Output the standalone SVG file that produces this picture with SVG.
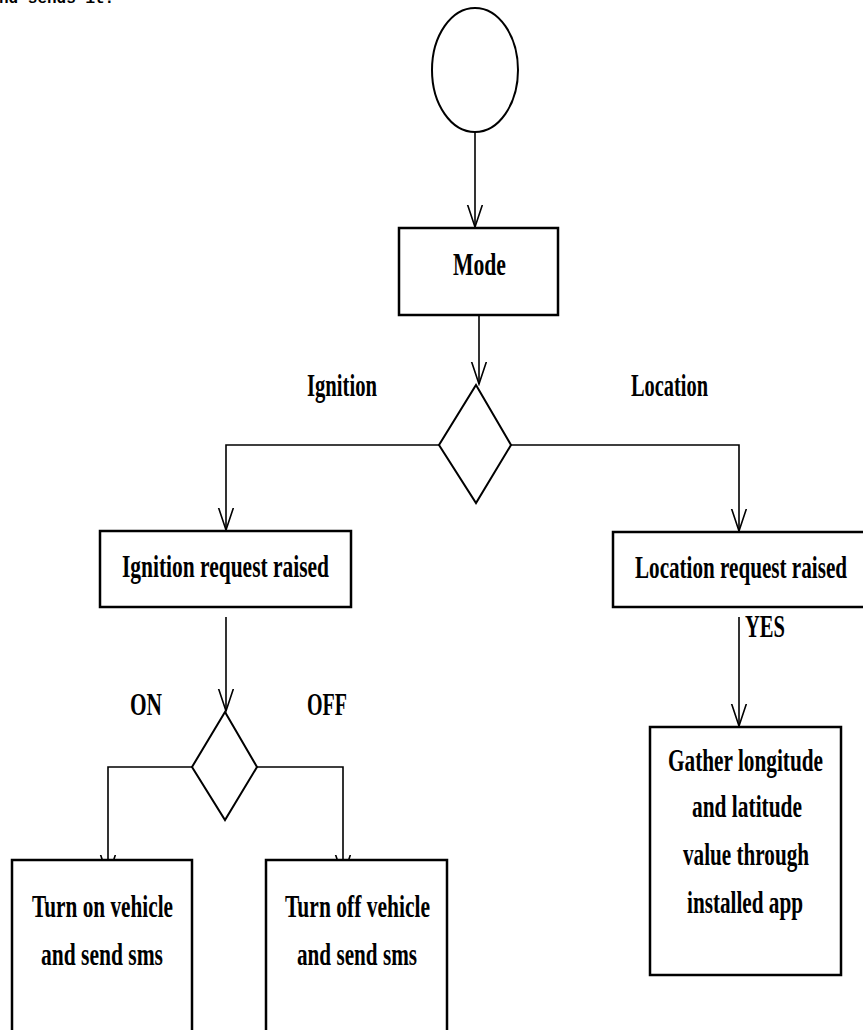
<svg xmlns="http://www.w3.org/2000/svg" width="863" height="1030" viewBox="0 0 863 1030">
<defs>
<style>
.box{fill:#fff;stroke:#000;stroke-width:2.5}
.shape{fill:#fff;stroke:#000;stroke-width:2}
.ln{fill:none;stroke:#000;stroke-width:1.6}
.t{font-family:"Liberation Serif","Times New Roman",serif;font-weight:bold;font-size:32px;fill:#000}
.m{text-anchor:middle}
.cap{font-family:"Liberation Mono","Courier New",monospace;font-weight:bold;font-size:16px;fill:#000}
</style>
<marker id="arr" viewBox="0 0 24 18" markerWidth="24" markerHeight="18" refX="22.5" refY="8" orient="auto" markerUnits="userSpaceOnUse">
<path d="M0,0.5 L22.5,8 L0,15.5" fill="none" stroke="#000" stroke-width="1.6"/>
</marker>
</defs>
<rect width="863" height="1030" fill="#fff"/>
<text class="cap" x="-1" y="3">nd sends it.</text>

<g id="connectors">
<path class="ln" d="M475,133 V227" marker-end="url(#arr)"/>
<path class="ln" d="M479,315 V384" marker-end="url(#arr)"/>
<path class="ln" d="M439,445 H226 V530" marker-end="url(#arr)"/>
<path class="ln" d="M511,445 H739 V531" marker-end="url(#arr)"/>
<path class="ln" d="M226,617 V711" marker-end="url(#arr)"/>
<path class="ln" d="M739,617 V726" marker-end="url(#arr)"/>
<path class="ln" d="M192,767 H108 V877" marker-end="url(#arr)"/>
<path class="ln" d="M257,767 H343 V877" marker-end="url(#arr)"/>
</g>

<g id="start">
<ellipse class="shape" cx="475" cy="70" rx="43" ry="62"/>
</g>

<g id="mode">
<rect class="box" x="399" y="228" width="159" height="87"/>
<text class="t m" x="479.5" y="275" textLength="53" lengthAdjust="spacingAndGlyphs">Mode</text>
</g>

<g id="decision-mode">
<polygon class="shape" points="476,385 511,445 476,503 439,445"/>
<text class="t m" x="342" y="396" textLength="70" lengthAdjust="spacingAndGlyphs">Ignition</text>
<text class="t m" x="669.5" y="396" textLength="77" lengthAdjust="spacingAndGlyphs">Location</text>
</g>

<g id="ignition-request">
<rect class="box" x="100" y="531" width="251" height="76"/>
<text class="t m" x="225.5" y="577" textLength="207" lengthAdjust="spacingAndGlyphs">Ignition request raised</text>
</g>

<g id="location-request">
<rect class="box" x="613" y="532" width="260" height="75"/>
<text class="t m" x="741" y="578" textLength="212" lengthAdjust="spacingAndGlyphs">Location request raised</text>
<text class="t" x="745" y="637" textLength="40" lengthAdjust="spacingAndGlyphs">YES</text>
</g>

<g id="decision-ignition">
<polygon class="shape" points="225,712 257,767 225,820 192,767"/>
<text class="t" x="130" y="715" textLength="32" lengthAdjust="spacingAndGlyphs">ON</text>
<text class="t" x="307" y="715" textLength="40" lengthAdjust="spacingAndGlyphs">OFF</text>
</g>

<g id="gather">
<rect class="box" x="650" y="727" width="191" height="248"/>
<text class="t m" x="745.5" y="771" textLength="155" lengthAdjust="spacingAndGlyphs">Gather longitude</text>
<text class="t m" x="747" y="817" textLength="110" lengthAdjust="spacingAndGlyphs">and latitude</text>
<text class="t m" x="746" y="865" textLength="126" lengthAdjust="spacingAndGlyphs">value through</text>
<text class="t m" x="745" y="913" textLength="116" lengthAdjust="spacingAndGlyphs">installed app</text>
</g>

<g id="turn-on">
<rect class="box" x="12" y="860" width="180" height="190"/>
<text class="t m" x="102.5" y="917" textLength="141" lengthAdjust="spacingAndGlyphs">Turn on vehicle</text>
<text class="t m" x="102" y="965" textLength="122" lengthAdjust="spacingAndGlyphs">and send sms</text>
</g>

<g id="turn-off">
<rect class="box" x="266" y="860" width="181" height="190"/>
<text class="t m" x="357.5" y="917" textLength="145" lengthAdjust="spacingAndGlyphs">Turn off vehicle</text>
<text class="t m" x="357" y="965" textLength="120" lengthAdjust="spacingAndGlyphs">and send sms</text>
</g>
</svg>
